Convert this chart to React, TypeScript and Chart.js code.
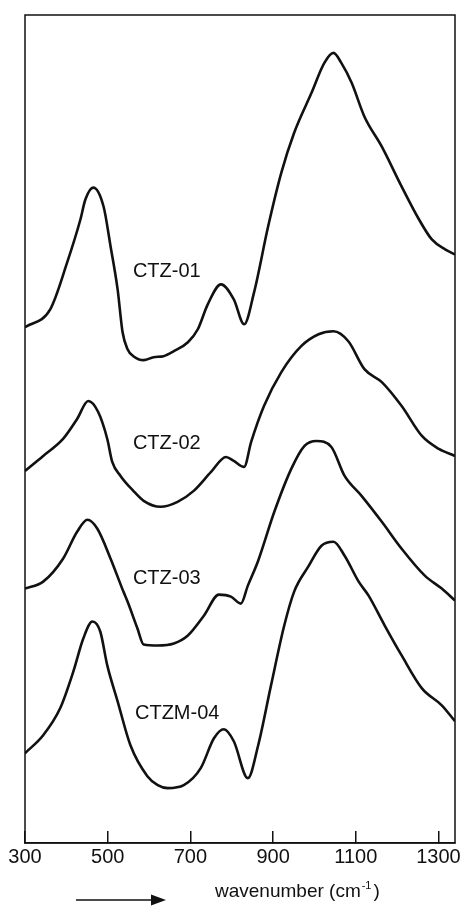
import React, { useEffect, useRef } from "react";
import { Chart, registerables } from "chart.js";

Chart.register(...registerables);

// x-axis tick labels (wavenumber, cm-1)
const wnTicks = [300, 500, 700, 900, 1100, 1300];

// CTZ-01
const ctz01Wn = [300, 361, 402, 434, 446, 465, 490, 507, 524, 536, 548, 562, 587, 611, 635, 660, 694, 718, 742, 774, 805, 830, 854, 888, 920, 951, 993, 1024, 1046, 1065, 1090, 1121, 1163, 1211, 1253, 1284, 1316, 1340];
const ctz01Abs = [51.7, 53.5, 58.2, 62.5, 64.5, 65.7, 63.8, 59.8, 55.5, 51.2, 49.5, 48.8, 48.4, 48.7, 48.8, 49.3, 50.2, 51.5, 54.0, 56.0, 54.5, 52.0, 55.2, 61.8, 67.2, 71.2, 75.2, 78.2, 79.2, 78.2, 76.2, 72.8, 69.8, 65.8, 62.5, 60.5, 59.5, 59.0];

// CTZ-02
const ctz02Wn = [300, 344, 392, 426, 453, 477, 499, 511, 531, 562, 587, 628, 669, 708, 750, 786, 805, 830, 847, 878, 920, 968, 1010, 1046, 1082, 1121, 1163, 1211, 1260, 1301, 1340];
const ctz02Abs = [37.3, 38.8, 40.5, 42.5, 44.3, 43.2, 40.5, 38.2, 36.8, 35.3, 34.3, 33.7, 34.2, 35.3, 37.2, 38.7, 38.3, 37.7, 40.2, 43.8, 47.2, 49.8, 51.0, 51.3, 50.3, 47.5, 46.2, 43.8, 40.8, 39.5, 38.8];

// CTZ-03
const ctz03Wn = [300, 344, 392, 426, 451, 475, 507, 538, 548, 572, 587, 621, 660, 694, 733, 769, 798, 822, 839, 864, 903, 944, 976, 1005, 1041, 1073, 1114, 1163, 1211, 1267, 1308, 1340];
const ctz03Abs = [25.5, 26.2, 28.5, 31.2, 32.4, 31.5, 28.5, 25.2, 24.2, 21.5, 19.9, 19.8, 20.0, 20.8, 22.8, 24.9, 24.7, 24.0, 25.8, 28.3, 33.2, 37.5, 39.8, 40.3, 39.7, 36.8, 34.8, 32.2, 29.5, 26.8, 25.5, 24.3];

// CTZM-04
const ctzm04Wn = [300, 344, 385, 417, 441, 463, 482, 499, 524, 555, 596, 621, 645, 684, 725, 757, 781, 805, 839, 864, 895, 927, 951, 985, 1017, 1046, 1073, 1107, 1131, 1170, 1211, 1260, 1308, 1340];
const ctzm04Abs = [9.0, 10.8, 13.5, 17.2, 20.5, 22.2, 21.2, 17.8, 14.2, 9.8, 6.7, 5.8, 5.5, 5.8, 7.5, 10.5, 11.4, 10.2, 6.5, 9.8, 15.8, 21.8, 25.2, 27.7, 29.8, 30.2, 28.8, 26.2, 24.8, 21.8, 18.8, 15.5, 13.8, 12.2];

// curve labels: name, left wavenumber, vertical centre (same units as the series)
const labelNames = ["CTZ-01", "CTZ-02", "CTZ-03", "CTZM-04"];
const labelWn = [561, 561, 561, 566];
const labelAbs = [57.3, 40.0, 26.5, 13.0];

const axisTitle = "wavenumber (cm";
const axisTitleSup = "-1";

const FONT = "'Liberation Sans', Arial, Helvetica, sans-serif";

const toPoints = (xs: number[], ys: number[]) => xs.map((x, i) => ({ x, y: ys[i] }));

const framePlugin = {
  id: "frameAndLabels",
  afterDraw(chart: any) {
    const { ctx, chartArea, scales } = chart;
    const xs = scales.x;
    const ys = scales.y;
    ctx.save();
    // frame
    ctx.strokeStyle = "#111";
    ctx.lineWidth = 1.5;
    ctx.strokeRect(chartArea.left, chartArea.top, chartArea.right - chartArea.left, chartArea.bottom - chartArea.top);
    // curve labels
    ctx.fillStyle = "#111";
    ctx.font = `20px ${FONT}`;
    ctx.textAlign = "left";
    ctx.textBaseline = "middle";
    labelNames.forEach((name, i) => {
      ctx.fillText(name, xs.getPixelForValue(labelWn[i]), ys.getPixelForValue(labelAbs[i]));
    });
    // arrow + axis title
    const ay = chartArea.bottom + 57;
    const ax0 = chartArea.left + 51;
    const ax1 = chartArea.left + 141;
    ctx.lineWidth = 1.6;
    ctx.beginPath();
    ctx.moveTo(ax0, ay);
    ctx.lineTo(ax1 - 12, ay);
    ctx.stroke();
    ctx.beginPath();
    ctx.moveTo(ax1, ay);
    ctx.lineTo(ax1 - 15, ay - 5.5);
    ctx.lineTo(ax1 - 15, ay + 5.5);
    ctx.closePath();
    ctx.fill();
    const tx = chartArea.left + 190;
    const ty = chartArea.bottom + 54;
    ctx.textBaseline = "alphabetic";
    ctx.font = `19px ${FONT}`;
    ctx.fillText(axisTitle, tx, ty);
    const w = ctx.measureText(axisTitle).width;
    ctx.font = `11px ${FONT}`;
    ctx.fillText(axisTitleSup, tx + w + 1, ty - 8);
    const w2 = ctx.measureText(axisTitleSup).width;
    ctx.font = `19px ${FONT}`;
    ctx.fillText(")", tx + w + w2 + 3, ty);
    ctx.restore();
  },
};

export default function App() {
  const canvasRef = useRef<HTMLCanvasElement | null>(null);

  useEffect(() => {
    document.body.style.margin = "0";
    const canvas = canvasRef.current;
    if (!canvas) return;
    const series = [
      toPoints(ctz01Wn, ctz01Abs),
      toPoints(ctz02Wn, ctz02Abs),
      toPoints(ctz03Wn, ctz03Abs),
      toPoints(ctzm04Wn, ctzm04Abs),
    ];
    const chart = new Chart(canvas, {
      type: "line",
      data: {
        datasets: series.map((data, i) => ({
          label: labelNames[i],
          data,
          borderColor: "#111",
          borderWidth: 2.6,
          pointRadius: 0,
          fill: false,
          cubicInterpolationMode: "monotone" as const,
        })),
      },
      options: {
        animation: false,
        responsive: false,
        devicePixelRatio: 1,
        layout: { padding: { left: 25, right: 7, top: 15, bottom: 24 } },
        plugins: { legend: { display: false }, tooltip: { enabled: false } },
        scales: {
          x: {
            type: "linear",
            min: 300,
            max: 1340,
            afterBuildTicks: (scale: any) => {
              scale.ticks = wnTicks.map((v) => ({ value: v }));
            },
            afterFit: (scale: any) => {
              scale.paddingLeft = 0;
              scale.paddingRight = 0;
            },
            border: { display: true, color: "#111", width: 1.5 },
            grid: {
              drawOnChartArea: false,
              drawTicks: true,
              tickLength: -12,
              color: "#111",
              lineWidth: 1.5,
            },
            ticks: {
              color: "#111",
              padding: 14,
              maxRotation: 0,
              autoSkip: false,
              font: { family: FONT, size: 20 },
              callback: (v: any) => String(v),
            },
          },
          y: {
            type: "linear",
            display: false,
            min: 0,
            max: 83,
          },
        },
      },
      plugins: [framePlugin],
    });
    return () => chart.destroy();
  }, []);

  return (
    <div style={{ width: 462, height: 907 }}>
      <canvas ref={canvasRef} width={462} height={907} style={{ display: "block", width: 462, height: 907 }} />
    </div>
  );
}
